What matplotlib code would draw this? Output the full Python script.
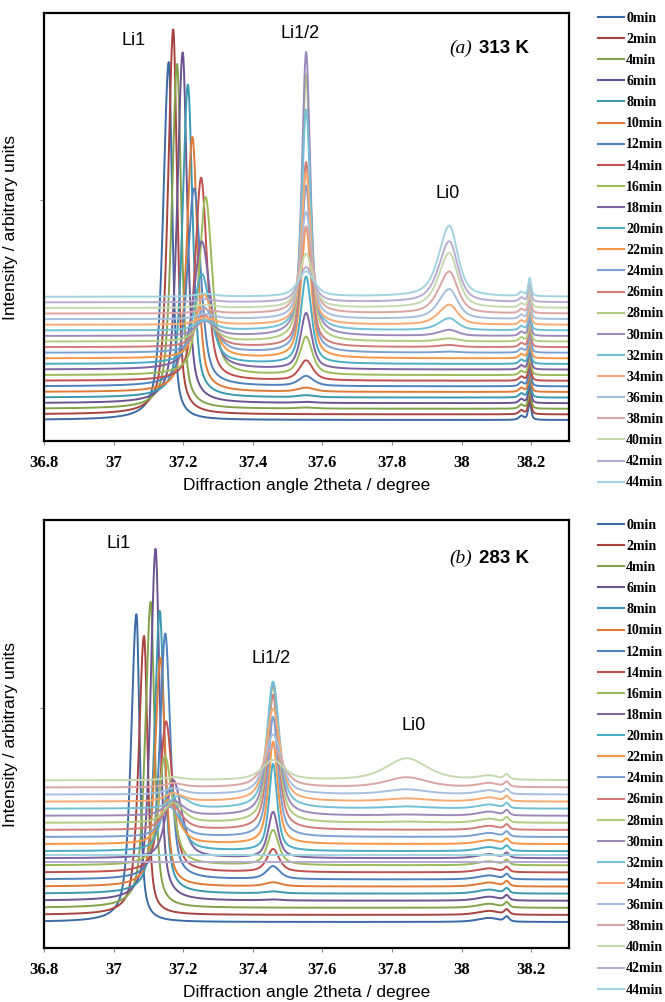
import numpy as np
import matplotlib.pyplot as plt
from matplotlib.lines import Line2D

# time-resolved XRD patterns
times = [0, 2, 4, 6, 8, 10, 12, 14, 16, 18, 20, 22, 24, 26, 28, 30, 32, 34, 36, 38, 40, 42, 44]
labels = [f'{t}min' for t in times]

colors = ['#3b6aa6', '#a9433f', '#84a24b', '#6b5491', '#3a98b1', '#e07a36',
          '#4f81bd', '#c0504d', '#9bbb59', '#8064a2', '#4bacc6', '#f79646',
          '#7aa1d2', '#d17c79', '#b1cb81', '#9c8abb', '#74c0d6', '#f9aa72',
          '#a6bfdf', '#dba5a4', '#c6d9ae', '#b8acd1', '#a2d4e0']

# ---- (a) 313 K ----
a_li1_pos = [37.158, 37.171, 37.182, 37.198, 37.213, 37.226, 37.231, 37.251, 37.264, 37.253, 37.253, 37.259,
             37.26, 37.26, 37.26, 37.26, 37.26, 37.26, 37.26, 37.26, 37.26, 37.26, 37.26]
a_li1_amp = [358, 385, 345, 351, 313, 255, 198, 203, 178, 128, 90, 64, 45, 32, 22, 15, 10, 7, 5, 4, 3, 3, 3]
a_li1_wl = [0.019, 0.018, 0.018, 0.018, 0.018, 0.019, 0.023, 0.020, 0.022, 0.027, 0.027, 0.027,
            0.029, 0.029, 0.029, 0.029, 0.029, 0.029, 0.029, 0.029, 0.029, 0.029, 0.029]
a_li1_wr = [0.012, 0.013, 0.014, 0.015, 0.016, 0.017, 0.022, 0.020, 0.022, 0.028, 0.029, 0.032,
            0.035, 0.035, 0.035, 0.035, 0.035, 0.035, 0.035, 0.035, 0.035, 0.035, 0.035]
a_li12_pos = 37.553
a_li12_amp = [0, 0, 1, 1, 2, 4, 10, 20, 38, 56, 87, 131, 167, 185, 267, 284, 221, 153, 107, 87, 54, 35, 25]
a_li12_w = [0.028, 0.028, 0.028, 0.028, 0.028, 0.028, 0.025, 0.023, 0.021, 0.019, 0.018, 0.017,
            0.016, 0.015, 0.014, 0.014, 0.015, 0.016, 0.019, 0.021, 0.023, 0.025, 0.028]
a_li0_pos = 37.965
a_li0_amp = [0, 0, 0, 0, 0, 0, 0, 0, 0, 0, 0, 0, 1, 2, 3, 6, 12, 20, 30, 42, 55, 61, 71]
a_li0_w = 0.036
a_minor_pos, a_minor_amp, a_minor_w = 38.196, 18, 0.005
a_background, a_step = 21, 5.6

# ---- (b) 283 K ----  (42min and 44min are flat lines in the source)
b_li1_pos = [37.065, 37.087, 37.106, 37.120, 37.132, 37.134, 37.148, 37.150, 37.147, 37.171, 37.161,
             37.155, 37.160, 37.165, 37.170, 37.170, 37.185, 37.170, 37.170, 37.170, 37.170]
b_li1_amp = [308, 279, 306, 352, 283, 229, 246, 151, 109, 78, 63, 44, 30, 25, 20, 15, 12, 8, 6, 4, 3]
b_li1_wl = [0.018, 0.018, 0.018, 0.017, 0.017, 0.018, 0.018, 0.020, 0.022, 0.024, 0.026,
            0.028, 0.029, 0.029, 0.029, 0.029, 0.029, 0.029, 0.029, 0.029, 0.029]
b_li1_wr = [0.011, 0.012, 0.013, 0.014, 0.015, 0.016, 0.017, 0.022, 0.026, 0.029, 0.032,
            0.034, 0.035, 0.035, 0.035, 0.035, 0.035, 0.035, 0.035, 0.035, 0.035]
b_li12_pos = 37.458
b_li12_amp = [0, 0, 0, 1, 2, 4, 13, 23, 35, 46, 87, 102, 120, 135, 137, 133, 127, 93, 60, 40, 20]
b_li12_w = [0.028, 0.028, 0.028, 0.028, 0.028, 0.028, 0.023, 0.021, 0.019, 0.017, 0.014,
            0.016, 0.017, 0.018, 0.019, 0.020, 0.021, 0.024, 0.028, 0.033, 0.038]
b_li0_pos = 37.842
b_li0_amp = [0, 0, 0, 0, 0, 0, 0, 0, 0, 0, 0, 0, 0, 0, 1, 1, 2, 3, 5, 10, 22]
b_li0_w = 0.07
b_minor_pos, b_minor_amp, b_minor_w = 38.13, 5, 0.008
b_flat = [86, 93]
b_background, b_step = 26, 7.08


def pv(x, c, h, wl, wr, eta=0.6):
    w = np.where(x < c, wl, wr)
    d = (x - c) / w
    return h * (eta / (1 + d ** 2) + (1 - eta) * np.exp(-np.log(2) * d ** 2))


x = np.linspace(36.8, 38.31, 1600)

fig = plt.figure(figsize=(6.65, 10.02), dpi=100)
ax_a = fig.add_axes([0.0666, 0.5599, 0.7895, 0.4271])
ax_b = fig.add_axes([0.0666, 0.0539, 0.7895, 0.4271])

handles = [Line2D([], [], color=c, lw=1.5) for c in colors]

# panel a
for i in range(len(times)):
    y = a_background + a_step * i
    y = y + pv(x, a_li1_pos[i], a_li1_amp[i], a_li1_wl[i], a_li1_wr[i])
    y = y + pv(x, a_li12_pos, a_li12_amp[i], a_li12_w[i], a_li12_w[i], 0.65)
    y = y + pv(x, a_li0_pos, a_li0_amp[i], a_li0_w, a_li0_w * 0.8)
    y = y + pv(x, a_minor_pos, a_minor_amp, a_minor_w, a_minor_w, 0.6)
    y = y + pv(x, a_minor_pos - 0.024, 4, 0.008, 0.008)
    ax_a.plot(x, y, color=colors[i], lw=1.4)

# panel b
n_b = len(b_li1_amp)
for i in range(n_b):
    y = b_background + b_step * i
    y = y + pv(x, b_li1_pos[i], b_li1_amp[i], b_li1_wl[i], b_li1_wr[i])
    y = y + pv(x, b_li12_pos, b_li12_amp[i], b_li12_w[i], b_li12_w[i], 0.7)
    y = y + pv(x, b_li0_pos, b_li0_amp[i], b_li0_w, b_li0_w)
    y = y + pv(x, b_minor_pos, b_minor_amp, b_minor_w, b_minor_w)
    y = y + pv(x, b_minor_pos - 0.05, 4, 0.04, 0.03)
    ax_b.plot(x, y, color=colors[i], lw=1.4)
for k, level in enumerate(b_flat):
    ax_b.plot(x, np.full_like(x, level), color=colors[n_b + k], lw=1.4)

sans = 'Liberation Sans'
serif = 'Liberation Serif'

for ax, tag, temp, ytick in [(ax_a, '(a)', '313 K', 241), (ax_b, '(b)', '283 K', 240)]:
    ax.set_xlim(36.8, 38.31)
    ax.set_ylim(0, 428)
    ax.set_xticks([36.8, 37, 37.2, 37.4, 37.6, 37.8, 38, 38.2])
    ax.set_xticklabels(['36.8', '37', '37.2', '37.4', '37.6', '37.8', '38', '38.2'],
                       fontfamily=serif, fontweight='bold', fontsize=12)
    ax.set_yticks([ytick])
    ax.set_yticklabels([])
    ax.tick_params(axis='both', direction='out', length=3, width=0.8, color='#888888', pad=7)
    for s in ax.spines.values():
        s.set_linewidth(1.6)
        s.set_color('black')
    ax.set_xlabel('Diffraction angle 2theta / degree', fontfamily=sans, fontsize=12.5, labelpad=5)
    ax.set_ylabel('Intensity / arbitrary units', fontfamily=sans, fontsize=12.5, labelpad=9)
    yfrac = 0.918 if tag == '(a)' else 0.911
    ax.text(0.815, yfrac, tag, transform=ax.transAxes, ha='right', va='center',
            fontfamily=serif, fontstyle='italic', fontsize=14)
    ax.text(0.828, yfrac, temp, transform=ax.transAxes, ha='left', va='center',
            fontfamily=sans, fontweight='bold', fontsize=13.5)
    ax.legend(handles, labels, loc='upper left', bbox_to_anchor=(1.054, 1.003),
              frameon=False, borderaxespad=0, borderpad=0, handlelength=1.9,
              handletextpad=0.15, labelspacing=0.585,
              prop={'family': serif, 'weight': 'bold', 'size': 10})

ax_a.text(37.058, 401, 'Li1', ha='center', va='center', fontfamily=sans, fontsize=13)
ax_a.text(37.537, 408, 'Li1/2', ha='center', va='center', fontfamily=sans, fontsize=13)
ax_a.text(37.96, 248, 'Li0', ha='center', va='center', fontfamily=sans, fontsize=13)
ax_b.text(37.014, 405, 'Li1', ha='center', va='center', fontfamily=sans, fontsize=13)
ax_b.text(37.451, 290, 'Li1/2', ha='center', va='center', fontfamily=sans, fontsize=13)
ax_b.text(37.862, 223, 'Li0', ha='center', va='center', fontfamily=sans, fontsize=13)

fig.savefig('out.png', dpi=100)
